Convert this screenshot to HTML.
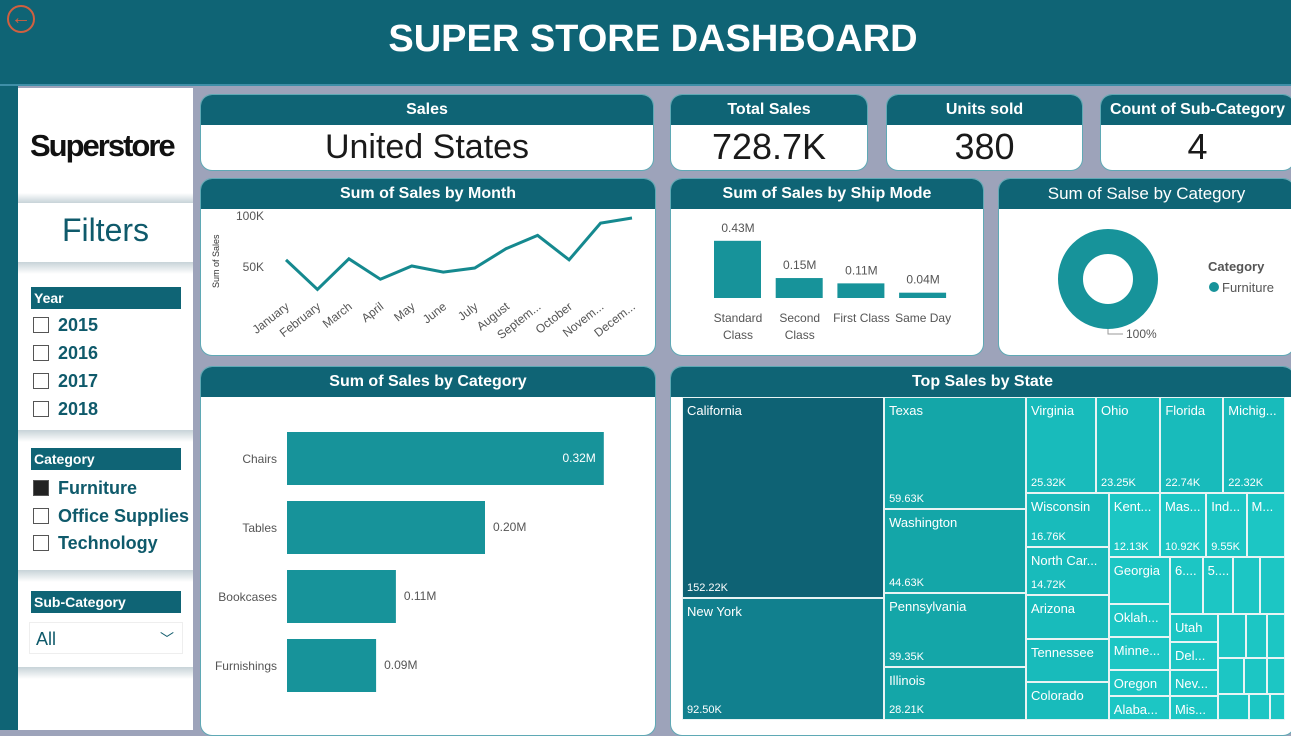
<!DOCTYPE html>
<html><head><meta charset="utf-8"><style>
*{box-sizing:border-box;margin:0;padding:0}
body{width:1291px;height:730px;overflow:hidden;background:#9da3ba;font-family:"Liberation Sans","DejaVu Sans",sans-serif;position:relative}
.abs{position:absolute}
.card{position:absolute;background:#fff;border-radius:12px;overflow:hidden;border:1px solid #5fa9b5}
.ch{background:#0f6475;color:#fff;font-weight:bold;text-align:center;font-size:16px;height:30px;line-height:30px}
.kv{text-align:center;font-size:36px;color:#1a1a1a;line-height:44px}
.sh{position:absolute;left:31px;width:150px;height:22px;background:#0f6475;color:#fff;font-weight:bold;font-size:14px;line-height:22px;padding-left:3px}
.cb{position:absolute;left:33px;font-size:18px;font-weight:bold;color:#0f5a6b;line-height:20px}
.cb i{display:inline-block;width:16px;height:16px;border:1px solid #555;vertical-align:-2px;margin-right:9px;background:#fff}
svg text{font-family:"Liberation Sans",sans-serif}
</style></head><body>
<div class="abs" style="left:0;top:0;width:1291px;height:86px;background:#0f6475;border-bottom:2px solid #3f8fa8"></div>
<div class="abs" style="left:7px;top:5px;width:28px;height:28px;border:2px solid #d06040;border-radius:50%;color:#d06040;font-size:20px;line-height:22px;text-align:center">←</div>
<div class="abs" style="left:0;top:18px;width:1306px;text-align:center;color:#fff;font-weight:bold;font-size:38px">SUPER STORE DASHBOARD</div>
<div class="abs" style="left:0;top:86px;width:18px;height:644px;background:#0f6475"></div>
<div class="abs" style="left:18px;top:88px;width:175px;height:642px;background:#fff"></div>
<div class="abs" style="left:30px;top:128px;font-size:31px;font-weight:bold;color:#111;letter-spacing:-2px">Superstore</div>
<div class="abs" style="left:18px;top:193px;width:175px;height:10px;background:linear-gradient(#fff,#c7d3d8)"></div>
<div class="abs" style="left:18px;top:212px;width:175px;text-align:center;font-size:32px;color:#0f5a6b">Filters</div>
<div class="abs" style="left:18px;top:262px;width:175px;height:12px;background:linear-gradient(#c7d3d8,#fff)"></div>
<div class="sh" style="top:287px">Year</div>
<div class="cb" style="top:315px"><i></i>2015</div>
<div class="cb" style="top:343px"><i></i>2016</div>
<div class="cb" style="top:371px"><i></i>2017</div>
<div class="cb" style="top:399px"><i></i>2018</div>
<div class="abs" style="left:18px;top:430px;width:175px;height:12px;background:linear-gradient(#c7d3d8,#fff)"></div>
<div class="sh" style="top:448px">Category</div>
<div class="cb" style="top:478px"><i style="background:#222"></i>Furniture</div>
<div class="cb" style="top:506px"><i></i>Office Supplies</div>
<div class="cb" style="top:533px"><i></i>Technology</div>
<div class="abs" style="left:18px;top:570px;width:175px;height:12px;background:linear-gradient(#c7d3d8,#fff)"></div>
<div class="sh" style="top:591px">Sub-Category</div>
<div class="abs" style="left:29px;top:622px;width:154px;height:32px;border:1px solid #eee;font-size:18px;color:#0f5a6b;line-height:32px;padding-left:6px">All<span style="position:absolute;right:8px;top:0;font-size:14px">﹀</span></div>
<div class="abs" style="left:18px;top:667px;width:175px;height:12px;background:linear-gradient(#c7d3d8,#fff)"></div>

<div class="card" style="left:200px;top:94px;width:454px;height:77px"><div class="ch">Sales</div><div class="kv" style="font-size:34px">United States</div></div>
<div class="card" style="left:670px;top:94px;width:198px;height:77px"><div class="ch">Total Sales</div><div class="kv">728.7K</div></div>
<div class="card" style="left:886px;top:94px;width:197px;height:77px"><div class="ch">Units sold</div><div class="kv">380</div></div>
<div class="card" style="left:1100px;top:94px;width:195px;height:77px"><div class="ch">Count of Sub-Category</div><div class="kv">4</div></div>

<div class="card" style="left:200px;top:178px;width:456px;height:178px"><div class="ch">Sum of Sales by Month</div></div>
<div class="card" style="left:670px;top:178px;width:314px;height:178px"><div class="ch">Sum of Sales by Ship Mode</div></div>
<div class="card" style="left:998px;top:178px;width:297px;height:178px"><div class="ch" style="font-weight:normal;font-size:17px">Sum of Salse by Category</div></div>
<div class="card" style="left:200px;top:366px;width:456px;height:370px"><div class="ch">Sum of Sales by Category</div></div>
<div class="card" style="left:670px;top:366px;width:625px;height:370px"><div class="ch">Top Sales by State</div></div>

<svg class="abs" style="left:0;top:0" width="1291" height="730" id="svg"></svg>
<div class="abs" id="tm" style="left:0;top:0"></div>

<script>
const months=["January","February","March","April","May","June","July","August","Septem...","October","Novem...","Decem..."];
const monthSales=[57,28,58,38,51,45,49,68,81,57,93,98];
const monthTicks=[50,100];
const shipModes=[["Standard","Class"],["Second","Class"],["First Class"],["Same Day"]];
const shipSales=[0.43,0.15,0.11,0.04];
const subCats=["Chairs","Tables","Bookcases","Furnishings"];
const subSales=[0.32,0.20,0.11,0.09];
const donutCats=["Furniture"];
const donutShare=[100];
const stateNames=["California","New York","Texas","Washington","Pennsylvania","Illinois","Virginia","Ohio","Florida","Michig...","Wisconsin","North Car...","Arizona","Tennessee","Colorado","Kent...","Mas...","Ind...","M...","Georgia","Oklah...","Minne...","Oregon","Alaba...","6....","5....","","","Utah","Del...","Nev...","Mis...","","","","","","","","",""];
const stateSales=[152.22,92.5,59.63,44.63,39.35,28.21,25.32,23.25,22.74,22.32,16.76,14.72,13.6,13.6,11.7,12.13,10.92,9.55,9.1,11,7.5,7.5,6,5.5,7,6.5,5.8,5.4,5.2,5,4.8,4.3,4.5,3.5,3,3.5,3,2.5,3,2,1.5];
const NS="http://www.w3.org/2000/svg",svg=document.getElementById('svg');
function mk(t,a,txt){const e=document.createElementNS(NS,t);for(const k in a)e.setAttribute(k,a[k]);if(txt!==undefined)e.textContent=txt;svg.appendChild(e);return e;}
// line chart
const lx=i=>286+i*(632-286)/(months.length-1), ly=v=>318-v*1.02;
monthTicks.forEach(t=>{const e=mk('text',{x:264,y:ly(t)+4,'text-anchor':'end','font-size':12,fill:'#555'},t+'K');

});
const yt=mk('text',{x:0,y:0,'font-size':9,fill:'#333',transform:'translate(219,288) rotate(-90)'},'Sum of Sales');


const pl=mk('polyline',{points:monthSales.map((v,i)=>lx(i)+','+ly(v)).join(' '),fill:'none',stroke:'#15898f','stroke-width':3});


months.forEach((m,i)=>{const e=mk('text',{x:0,y:0,'font-size':12,fill:'#555','text-anchor':'end',transform:`translate(${lx(i)+4},${308}) rotate(-38)`},m);

});
// ship mode
const sx=i=>738+i*61.7, sy=v=>v*133;
shipSales.forEach((v,i)=>{const r=mk('rect',{x:sx(i)-24,y:298-sy(v),width:47,height:sy(v),fill:'#17939a'});


const l=mk('text',{x:sx(i),y:298-sy(v)-9,'text-anchor':'middle','font-size':12,fill:'#555'},v.toFixed(2)+'M');


shipModes[i].forEach((s,j)=>{const t=mk('text',{x:sx(i),y:322+j*17,'text-anchor':'middle','font-size':12,fill:'#555'},s);

});});
// donut
const dc=mk('circle',{cx:1108,cy:279,r:37.5,fill:'none',stroke:'#17939a','stroke-width':25*donutShare[0]/100});


mk('polyline',{points:'1108,329 1108,334 1123,334',fill:'none',stroke:'#999'});
const dl=mk('text',{x:1126,y:338,'font-size':12,fill:'#555'},donutShare[0]+'%');


const lt=mk('text',{x:1208,y:271,'font-size':13,'font-weight':'bold',fill:'#555'},'Category');


mk('circle',{cx:1214,cy:287,r:5,fill:'#17939a'});
const le=mk('text',{x:1222,y:292,'font-size':13,fill:'#555'},donutCats[0]);


// category bars
const bw=v=>v*990, by=i=>432+i*69;
subSales.forEach((v,i)=>{const r=mk('rect',{x:287,y:by(i),width:bw(v),height:53,fill:'#17939a'});


const c=mk('text',{x:277,y:by(i)+31,'text-anchor':'end','font-size':12,fill:'#555'},subCats[i]);


const inside=i===0;
const l=mk('text',{x:inside?287+bw(v)-8:287+bw(v)+8,y:by(i)+30,'text-anchor':inside?'end':'start','font-size':12,fill:inside?'#fff':'#555'},v.toFixed(2)+'M');

});
// treemap: nested slice layout
const tree={d:'h',c:[{d:'v',c:[0,1]},{d:'v',c:[2,3,4,5]},{d:'v',c:[{d:'h',c:[6,7,8,9]},{d:'h',c:[{d:'v',c:[10,11,12,13,14]},{d:'v',c:[{d:'h',c:[15,16,17,18]},{d:'h',c:[{d:'v',c:[19,20,21,22,23]},{d:'v',c:[{d:'h',c:[24,25,26,27]},{d:'h',c:[{d:'v',c:[28,29,30,31]},{d:'v',c:[{d:'h',c:[32,33,34]},{d:'h',c:[35,36,37]},{d:'h',c:[38,39,40]}]}]}]}]}]}]}]}]};
const sum=n=>typeof n==='number'?stateSales[n]:n.c.reduce((a,b)=>a+sum(b),0);
const tm=document.getElementById('tm');
function color(i){return i===0?'#0e6274':i===1?'#11808e':i<6?'#14a6a8':i<15?'#18bbbb':'#1cc6c4';}
function lay(n,x,y,w,h){if(typeof n==='number'){const d=document.createElement('div');


d.style.cssText=`position:absolute;left:${x}px;top:${y}px;width:${w}px;height:${h}px;background:${color(n)};border:1px solid #e8f4f4;color:#fff;font-size:13px;overflow:hidden;white-space:nowrap`;
const big=w>40&&h>30;let html='';if(stateNames[n]&&h>22)html+=`<div style="position:absolute;left:4px;top:5px">${stateNames[n]}</div>`;
if(big&&n<19&&h>45)html+=`<div style="position:absolute;left:4px;bottom:3px;font-size:11px">${stateSales[n].toFixed(2)}K</div>`;
d.innerHTML=html;tm.appendChild(d);return;}
const t=sum(n);let o=0;n.c.forEach(c=>{const f=sum(c)/t;if(n.d==='h'){lay(c,x+o,y,w*f,h);o+=w*f;}else{lay(c,x,y+o,w,h*f);o+=h*f;}});}
lay(tree,682,397,603,323);
</script>
</body></html>
